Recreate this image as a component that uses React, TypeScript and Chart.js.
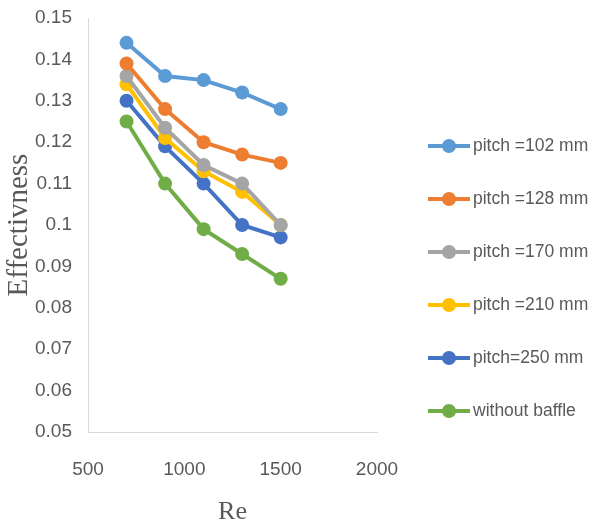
import React, { useEffect, useRef } from "react";
import { Chart, registerables } from "chart.js";

Chart.register(...registerables);

const reValues = [700, 900, 1100, 1300, 1500];
const seriesLabels = [
  "pitch =102 mm",
  "pitch =128 mm",
  "pitch =170 mm",
  "pitch =210 mm",
  "pitch=250 mm",
  "without baffle",
];
const pitch102 = [0.144, 0.136, 0.135, 0.132, 0.128];
const pitch128 = [0.139, 0.128, 0.12, 0.117, 0.115];
const pitch170 = [0.136, 0.1235, 0.1145, 0.11, 0.1];
const pitch210 = [0.134, 0.121, 0.113, 0.108, 0.1];
const pitch250 = [0.13, 0.119, 0.11, 0.1, 0.097];
const withoutBaffle = [0.125, 0.11, 0.099, 0.093, 0.087];
const seriesValues = [pitch102, pitch128, pitch170, pitch210, pitch250, withoutBaffle];
const seriesColors = ["#5B9BD5", "#ED7D31", "#A5A5A5", "#FFC000", "#4472C4", "#70AD47"];

const xTicks = [500, 1000, 1500, 2000];
const yTicks = [0.05, 0.06, 0.07, 0.08, 0.09, 0.1, 0.11, 0.12, 0.13, 0.14, 0.15];

const SANS = "'Liberation Sans', Arial, sans-serif";
const SERIF = "'Liberation Serif', 'Times New Roman', serif";
const TEXT = "#595959";

const legendPlugin = {
  id: "excelLegend",
  afterDraw(chart: any) {
    const ctx = chart.ctx;
    const area = chart.chartArea;
    const x0 = area.right + 51;
    const top = 146;
    const gap = 53;
    ctx.save();
    chart.data.datasets.forEach((ds: any, i: number) => {
      const y = top + i * gap;
      ctx.strokeStyle = ds.borderColor;
      ctx.lineWidth = 4;
      ctx.lineCap = "butt";
      ctx.beginPath();
      ctx.moveTo(x0, y);
      ctx.lineTo(x0 + 42, y);
      ctx.stroke();
      ctx.fillStyle = ds.backgroundColor;
      ctx.beginPath();
      ctx.arc(x0 + 21, y, 7, 0, Math.PI * 2);
      ctx.fill();
      ctx.fillStyle = TEXT;
      ctx.font = `17.5px ${SANS}`;
      ctx.textBaseline = "middle";
      ctx.textAlign = "left";
      ctx.fillText(ds.label, x0 + 45, y);
    });
    ctx.restore();
  },
};

export default function App() {
  const ref = useRef<HTMLCanvasElement | null>(null);
  useEffect(() => {
    if (!ref.current) return;
    const chart = new Chart(ref.current, {
      type: "line",
      data: {
        datasets: seriesLabels.map((label, i) => ({
          label,
          data: reValues.map((x, j) => ({ x, y: seriesValues[i][j] })),
          borderColor: seriesColors[i],
          backgroundColor: seriesColors[i],
          pointBackgroundColor: seriesColors[i],
          pointBorderColor: seriesColors[i],
          borderWidth: 4,
          pointRadius: 7,
          pointBorderWidth: 0,
          tension: 0,
          fill: false,
        })),
      },
      options: {
        responsive: false,
        animation: false,
        layout: { padding: { top: 18, right: 213, bottom: 0, left: 0 } },
        plugins: {
          legend: { display: false },
          tooltip: { enabled: false },
        },
        scales: {
          x: {
            type: "linear",
            min: 500,
            max: 2000,
            afterBuildTicks: (s: any) => {
              s.ticks = xTicks.map((v) => ({ value: v }));
            },
            afterFit: (s: any) => {
              s.height = 98;
              s.paddingLeft = 20;
              s.paddingRight = 20;
            },
            grid: { display: false, drawTicks: false },
            border: { display: true, color: "#D9D9D9", width: 1 },
            ticks: {
              color: TEXT,
              font: { family: SANS, size: 19 },
              padding: 26,
              maxRotation: 0,
              callback: (v: any) => String(v),
            },
            title: {
              display: true,
              text: "Re",
              color: TEXT,
              font: { family: SERIF, size: 26 },
              padding: { top: 0, bottom: 2 },
            },
          },
          y: {
            type: "linear",
            min: 0.05,
            max: 0.15,
            afterBuildTicks: (s: any) => {
              s.ticks = yTicks.map((v) => ({ value: v }));
            },
            afterFit: (s: any) => {
              s.width = 88;
              s.paddingTop = 12;
              s.paddingBottom = 12;
            },
            grid: { display: false, drawTicks: false },
            border: { display: true, color: "#D9D9D9", width: 1 },
            ticks: {
              color: TEXT,
              font: { family: SANS, size: 19 },
              padding: 16,
              callback: (v: any) => String(Number(Number(v).toFixed(2))),
            },
            title: {
              display: true,
              text: "Effectivness",
              color: TEXT,
              font: { family: SERIF, size: 29 },
              padding: { top: 2, bottom: 0 },
            },
          },
        },
      },
      plugins: [legendPlugin],
    } as any);
    return () => chart.destroy();
  }, []);
  return (
    <div style={{ position: "fixed", left: 0, top: 0, width: 590, height: 530, background: "#fff" }}>
      <canvas ref={ref} width={590} height={530} style={{ display: "block" }} />
    </div>
  );
}
